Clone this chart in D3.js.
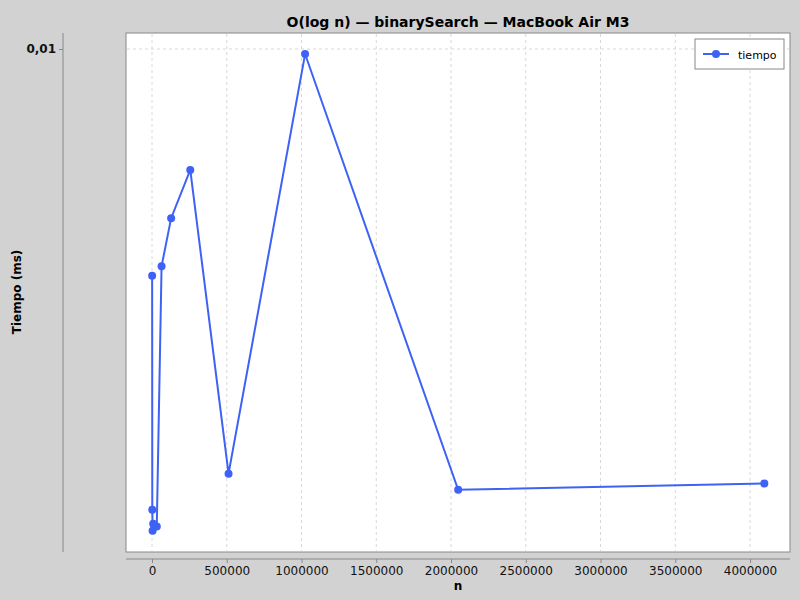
<!DOCTYPE html>
<html><head><meta charset="utf-8">
<script src="https://cdn.jsdelivr.net/npm/d3@7"></script>
<style>body{margin:0;background:#d2d2d2;font-family:"DejaVu Sans",sans-serif}</style>
</head><body><div id="chart"></div>
<script>
var nValues = [1000, 2000, 4000, 8000, 16000, 32000, 64000, 128000, 256000, 512000, 1024000, 2048000, 4096000];
var tiempo = [0.00484, 0.00229, 0.00214, 0.00219, 0.00217, 0.00217, 0.00499, 0.00582, 0.00679, 0.00257, 0.00984, 0.00244, 0.00249];
var xTicks = [0, 500000, 1000000, 1500000, 2000000, 2500000, 3000000, 3500000, 4000000];
var yTicks = [0.01];

var width = 800, height = 600;
var plotLeft = 126, plotRight = 790, plotTop = 33, plotBottom = 552;
var svg = d3.select('#chart').append('svg').attr('width', width).attr('height', height);
svg.append('rect').attr('width', width).attr('height', height).attr('fill', '#d2d2d2');

var x = d3.scaleLinear().domain([0, 4000000]).range([152, 750]);
var y = d3.scaleLog().domain([0.002, 0.01]).range([plotBottom, 49]);

svg.append('rect').attr('x', plotLeft).attr('y', plotTop).attr('width', plotRight - plotLeft).attr('height', plotBottom - plotTop)
  .attr('fill', '#fff').attr('stroke', '#888');

// grid
svg.selectAll('.gx').data(xTicks).enter().append('line')
  .attr('x1', d => x(d)).attr('x2', d => x(d)).attr('y1', plotTop + 1).attr('y2', plotBottom - 1)
  .attr('stroke', '#d8d8d8').attr('stroke-dasharray', '3,3');
svg.selectAll('.gy').data(yTicks).enter().append('line')
  .attr('x1', plotLeft + 1).attr('x2', plotRight - 1).attr('y1', d => y(d)).attr('y2', d => y(d))
  .attr('stroke', '#d8d8d8').attr('stroke-dasharray', '3,3');

// x axis
var xAxis = d3.axisBottom(x).tickValues(xTicks).tickFormat(d3.format('d')).tickSize(4);
var gx = svg.append('g').attr('transform', 'translate(0,' + (plotBottom + 7) + ')').call(xAxis);
gx.select('.domain').attr('d', 'M' + plotLeft + ',0H' + plotRight).attr('stroke', '#888');
gx.selectAll('line').attr('stroke', '#888');
gx.selectAll('text').attr('font-size', 12).attr('fill', '#111').attr('font-family', 'DejaVu Sans');

// y axis
var yAxis = d3.axisLeft(y).tickValues(yTicks).tickFormat(d => '0,01').tickSize(4);
var gy = svg.append('g').attr('transform', 'translate(63,0)').call(yAxis);
gy.select('.domain').attr('d', 'M0,' + plotTop + 'V' + plotBottom).attr('stroke', '#888');
gy.selectAll('line').attr('stroke', '#888');
gy.selectAll('text').attr('font-size', 12).attr('font-weight', 'bold').attr('fill', '#111').attr('font-family', 'DejaVu Sans');

// line
var pts = nValues.map((n, i) => [n, tiempo[i]]);
svg.append('path').datum(pts).attr('fill', 'none').attr('stroke', '#3d62f5').attr('stroke-width', 2)
  .attr('d', d3.line().x(d => x(d[0])).y(d => y(d[1])));
svg.selectAll('.pt').data(pts).enter().append('circle')
  .attr('cx', d => x(d[0])).attr('cy', d => y(d[1])).attr('r', 4).attr('fill', '#3d62f5');

// titles
svg.append('text').attr('x', 458).attr('y', 27).attr('text-anchor', 'middle').attr('font-size', 14)
  .attr('font-weight', 'bold').text('O(log n) — binarySearch — MacBook Air M3');
svg.append('text').attr('x', 458).attr('y', 590).attr('text-anchor', 'middle').attr('font-size', 12)
  .attr('font-weight', 'bold').text('n');
svg.append('text').attr('transform', 'translate(21,292)rotate(-90)').attr('text-anchor', 'middle')
  .attr('font-size', 12).attr('font-weight', 'bold').text('Tiempo (ms)');

// legend
var lg = svg.append('g').attr('transform', 'translate(695,39)');
lg.append('rect').attr('width', 89).attr('height', 30).attr('fill', '#fff').attr('stroke', '#888');
lg.append('line').attr('x1', 8).attr('x2', 34).attr('y1', 15).attr('y2', 15).attr('stroke', '#3d62f5').attr('stroke-width', 2);
lg.append('circle').attr('cx', 21).attr('cy', 15).attr('r', 4).attr('fill', '#3d62f5');
lg.append('text').attr('x', 43).attr('y', 20).attr('font-size', 11).text('tiempo');
</script></body></html>
